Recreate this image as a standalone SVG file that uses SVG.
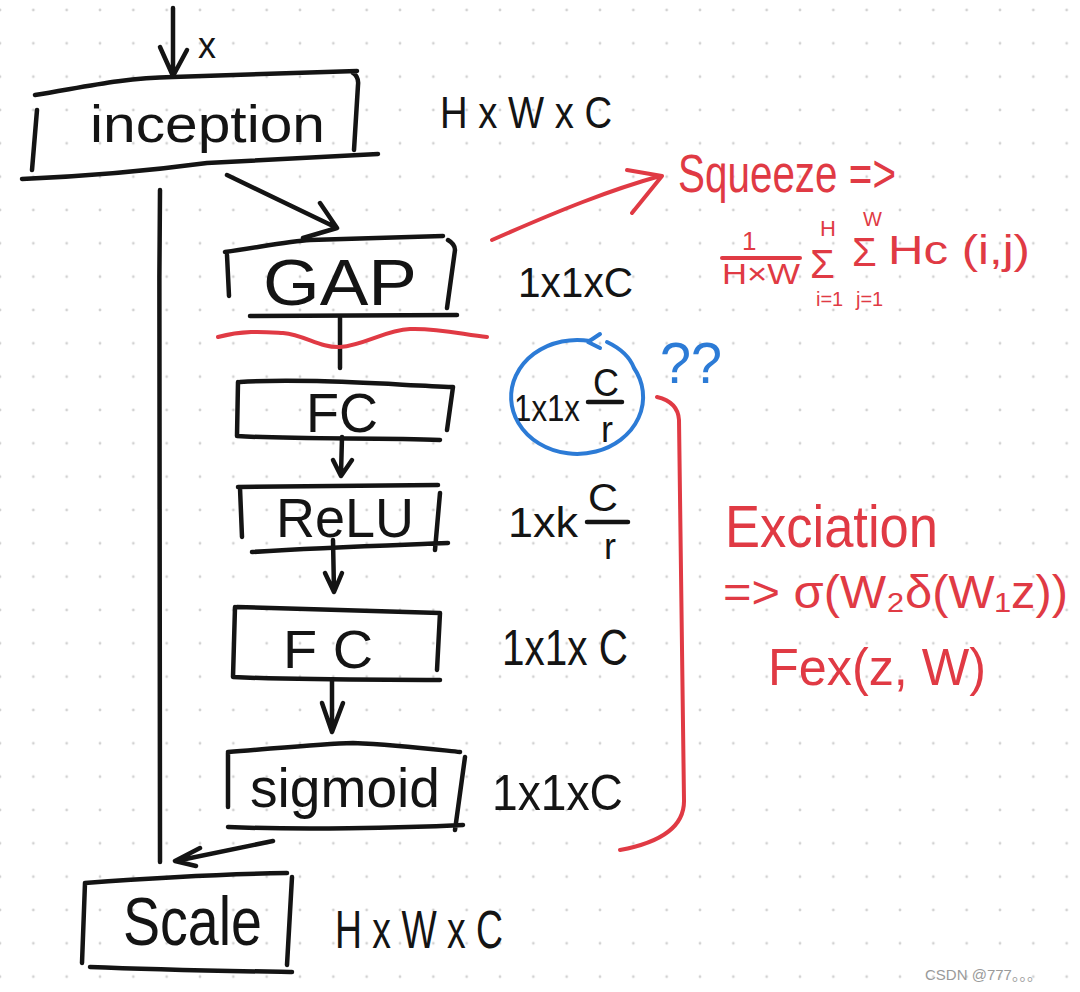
<svg xmlns="http://www.w3.org/2000/svg" width="1080" height="992" viewBox="0 0 1080 992">
<defs>
<pattern id="dots" x="-16.667" y="-6.667" width="33.333" height="33.333" patternUnits="userSpaceOnUse"><circle cx="16.667" cy="16.667" r="1.4" fill="#d2d2d2"/></pattern>
<style>
.k{fill:none;stroke:#141414;stroke-width:4.5;stroke-linecap:round;stroke-linejoin:round}
.r{fill:none;stroke:#e03a44;stroke-width:4;stroke-linecap:round;stroke-linejoin:round}
.b{fill:none;stroke:#2c7bd6;stroke-width:4;stroke-linecap:round;stroke-linejoin:round}
.t{font-family:"Liberation Sans",Arial,sans-serif;fill:#141414}
.tr{font-family:"Liberation Sans","DejaVu Sans",Arial,sans-serif;fill:#e03a44}
.tb{font-family:"Liberation Sans",Arial,sans-serif;fill:#2c7bd6}
</style>
</defs>
<rect width="1080" height="992" fill="#ffffff"/>
<rect width="1080" height="992" fill="url(#dots)"/>

<g id="connectors">
<path class="k" d="M173,8 L173,75 M160,47 L173,76 L187,50"/>
<path class="k" d="M227,175 L333,226 M320,203 L337,228 L303,238"/>
<path class="k" d="M340,318 L340,368"/>
<path class="k" d="M342,437 L341,474 M333,460 L341,476 L352,460"/>
<path class="k" d="M333,540 L334,591 M325,573 L334,592 L342,573"/>
<path class="k" d="M332,680 L332,730 M322,703 L332,732 L343,703"/>
<path class="k" d="M160,190 C158,400 160,600 160,862"/>
<path class="k" d="M273,841 L176,861 M200,848 L175,861 L196,866"/>
<path class="r" d="M492,240 C560,210 610,190 660,176 M627,170 L662,176 L632,213"/>
</g>

<g id="input">
<text class="t" x="198" y="58" font-size="36">x</text>
</g>

<g id="inception">
<path class="k" d="M35,95 C80,88 120,78 173,77 L357,71 M353,73 Q359,77 358,85 L354,150 M22,179 C90,176 140,172 207,163 L378,154 M37,110 L32,170"/>
<text class="t" x="90" y="142" font-size="52" textLength="235" lengthAdjust="spacingAndGlyphs">inception</text>
<text class="t" x="440" y="128" font-size="44" textLength="172" lengthAdjust="spacingAndGlyphs">H x W x C</text>
</g>

<g id="gap">
<path class="k" d="M225,252 C260,247 290,241 310,240 L443,236 M448,240 Q455,244 455,250 L447,308 M227,255 L229,296 M250,316 L457,315"/>
<text class="t" x="263" y="305" font-size="64" textLength="154" lengthAdjust="spacingAndGlyphs">GAP</text>
<text class="t" x="518" y="297" font-size="42" textLength="115" lengthAdjust="spacingAndGlyphs">1x1xC</text>
</g>

<path class="r" d="M218,337 C245,330 265,332 283,333 C305,335 320,348 340,347 C365,345 385,330 410,329 C440,328 465,335 487,337"/>

<g id="fc1">
<path class="k" d="M240,382 C300,378 380,384 453,387 M238,382 L237,436 M453,387 L447,430 M237,436 C300,440 380,437 440,440"/>
<text class="t" x="514" y="421" font-size="36" textLength="66" lengthAdjust="spacingAndGlyphs">1x1x</text>
<text class="t" x="306" y="432" font-size="56" textLength="72" lengthAdjust="spacingAndGlyphs">FC</text>
<text class="t" x="593" y="396" font-size="38" textLength="26" lengthAdjust="spacingAndGlyphs">C</text>
<path class="k" d="M588,402 L622,402"/>
<text class="t" x="601" y="442" font-size="36">r</text>
</g>

<g id="question">
<path class="b" d="M590,341 A66,57 0 1 0 634,368 Q628,352 607,342 M600,334 L588,342 L600,348"/>
<text class="tb" x="660" y="383" font-size="58" textLength="62" lengthAdjust="spacingAndGlyphs">??</text>
</g>

<g id="relu">
<path class="k" d="M238,487 L438,485 M240,488 L242,537 M440,493 L435,550 M252,552 C330,547 400,545 448,543"/>
<text class="t" x="276" y="537" font-size="56" textLength="138" lengthAdjust="spacingAndGlyphs">ReLU</text>
<text class="t" x="508" y="537" font-size="42" textLength="70" lengthAdjust="spacingAndGlyphs">1xk</text>
<text class="t" x="588" y="511" font-size="38" textLength="30" lengthAdjust="spacingAndGlyphs">C</text>
<path class="k" d="M587,522 L628,522"/>
<text class="t" x="604" y="559" font-size="36">r</text>
</g>

<g id="fc2">
<path class="k" d="M237,607 C300,609 380,611 440,613 M235,607 L233,677 M440,613 L437,670 M233,677 C320,681 400,679 440,680"/>
<text class="t" x="283" y="668" font-size="54" textLength="90" lengthAdjust="spacingAndGlyphs">F C</text>
<text class="t" x="502" y="665" font-size="50" textLength="126" lengthAdjust="spacingAndGlyphs">1x1x C</text>
</g>

<g id="sigmoid">
<path class="k" d="M228,752 C280,748 320,744 353,743 C400,745 440,750 460,752 M228,753 L228,807 M465,757 L455,830 M228,827 C300,830 400,828 463,825"/>
<text class="t" x="250" y="807" font-size="56" textLength="190" lengthAdjust="spacingAndGlyphs">sigmoid</text>
<text class="t" x="492" y="810" font-size="50" textLength="131" lengthAdjust="spacingAndGlyphs">1x1xC</text>
</g>

<g id="scale">
<path class="k" d="M85,883 C150,878 220,874 287,873 M85,883 L82,963 M292,877 L287,965 M90,967 C160,970 230,971 292,972"/>
<text class="t" x="123" y="945" font-size="68" textLength="139" lengthAdjust="spacingAndGlyphs">Scale</text>
<text class="t" x="335" y="948" font-size="54" textLength="168" lengthAdjust="spacingAndGlyphs">H x W x C</text>
</g>

<g id="squeeze">
<text class="tr" x="678" y="192" font-size="54" textLength="218" lengthAdjust="spacingAndGlyphs">Squeeze =&gt;</text>
<text class="tr" x="742" y="250" font-size="26">1</text>
<path class="r" d="M722,258 L800,258"/>
<text class="tr" x="722" y="284" font-size="30" textLength="78" lengthAdjust="spacingAndGlyphs">H×W</text>
<text class="tr" x="810" y="278" font-size="40">Σ</text>
<text class="tr" x="820" y="236" font-size="22">H</text>
<text class="tr" x="816" y="306" font-size="20">i=1</text>
<text class="tr" x="852" y="266" font-size="40">Σ</text>
<text class="tr" x="863" y="226" font-size="20">W</text>
<text class="tr" x="856" y="306" font-size="20">j=1</text>
<text class="tr" x="888" y="264" font-size="40" textLength="142" lengthAdjust="spacingAndGlyphs">Hc (i,j)</text>
</g>

<g id="excitation">
<path class="r" d="M657,397 Q678,402 679,420 L684,800 Q685,838 620,850"/>
<text class="tr" x="725" y="547" font-size="60" textLength="213" lengthAdjust="spacingAndGlyphs">Exciation</text>
<text class="tr" x="723" y="608" font-size="46" textLength="345" lengthAdjust="spacingAndGlyphs">=&gt; σ(W₂δ(W₁z))</text>
<text class="tr" x="768" y="685" font-size="52" textLength="218" lengthAdjust="spacingAndGlyphs">Fex(z, W)</text>
</g>

<text x="925" y="980" font-size="15" fill="#9a9a9a" font-family="'Liberation Sans','Noto Sans CJK SC',sans-serif">CSDN @777。。。</text>
</svg>
